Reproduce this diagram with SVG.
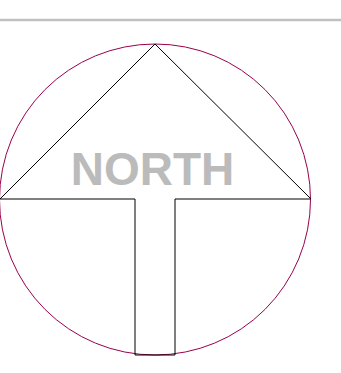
<svg xmlns="http://www.w3.org/2000/svg" width="341" height="373" viewBox="0 0 341 373">
<style>
.rule{stroke:#c0c0c0;stroke-width:2.6;fill:none}
.ring{stroke:#99004d;stroke-width:1;fill:none}
.arrow{stroke:#000;stroke-width:1;fill:none}
.label{font-family:"Liberation Sans",Arial,sans-serif;font-weight:bold;font-size:46px;fill:#bbbbbb}
</style>
<line class="rule" x1="0" y1="20" x2="341" y2="20"/>
<g id="compass">
<circle class="ring" cx="155" cy="199.5" r="155.5"/>
<polygon class="arrow" points="155,44 311,199 175,199 175,355 135,355 135,199 0,199"/>
<text class="label" x="152.5" y="185" text-anchor="middle">NORTH</text>
</g>
</svg>
